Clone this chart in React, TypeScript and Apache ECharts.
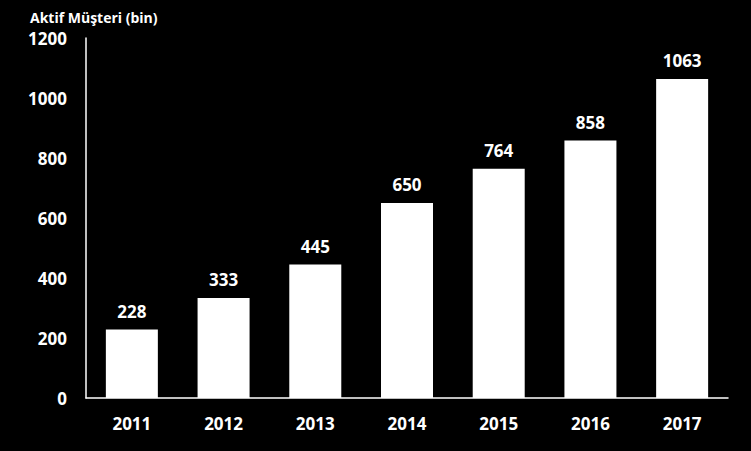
import React, { useEffect, useRef } from "react";
import * as echarts from "echarts";

const years = ["2011", "2012", "2013", "2014", "2015", "2016", "2017"];
const customers = [228, 333, 445, 650, 764, 858, 1063];
const axisTitle = "Aktif Müşteri (bin)";

const FONT = "'Open Sans', 'Liberation Sans', sans-serif";

export default function App() {
  const ref = useRef<HTMLDivElement>(null);
  useEffect(() => {
    if (!ref.current) return;
    const chart = echarts.init(ref.current, undefined, { renderer: "svg" });
    chart.setOption({
      animation: false,
      backgroundColor: "#000000",
      textStyle: { fontFamily: FONT },
      title: {
        text: axisTitle,
        left: 25,
        top: 5,
        textStyle: { color: "#ffffff", fontSize: 14, fontWeight: "bold", fontFamily: FONT },
      },
      grid: { left: 86, top: 38, width: 642, height: 360 },
      xAxis: {
        type: "category",
        data: years,
        axisLine: { show: true, lineStyle: { color: "#ffffff", width: 1.5 } },
        axisTick: { show: false },
        axisLabel: { color: "#ffffff", fontSize: 17, fontWeight: "bold", margin: 17, fontFamily: FONT },
      },
      yAxis: {
        type: "value",
        min: 0,
        max: 1200,
        interval: 200,
        axisLine: { show: true, lineStyle: { color: "#ffffff", width: 1.5 } },
        axisTick: { show: false },
        splitLine: { show: false },
        axisLabel: {
          color: "#ffffff",
          fontSize: 17,
          fontWeight: "bold",
          margin: 19,
          fontFamily: FONT,
          formatter: (v: number) => String(v),
        },
      },
      series: [
        {
          type: "bar",
          data: customers,
          barWidth: 52,
          itemStyle: { color: "#ffffff" },
          label: {
            show: true,
            position: "top",
            distance: 10,
            color: "#ffffff",
            fontSize: 17,
            fontWeight: "bold",
            fontFamily: FONT,
          },
        },
      ],
    });
    return () => chart.dispose();
  }, []);
  return (
    <div
      ref={ref}
      style={{ position: "absolute", left: 0, top: 0, width: 751, height: 451 }}
    />
  );
}
